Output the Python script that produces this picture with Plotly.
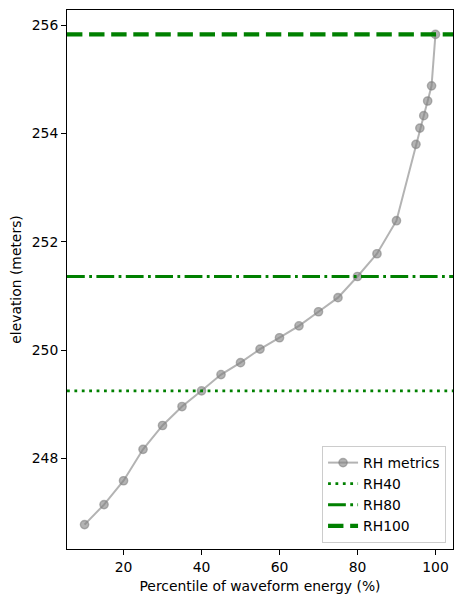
import plotly.graph_objects as go

# RH metrics
percentile = [10, 15, 20, 25, 30, 35, 40, 45, 50, 55, 60, 65, 70, 75, 80, 85, 90,
              95, 96, 97, 98, 99, 100]
elevation = [246.78, 247.15, 247.59, 248.17, 248.61, 248.96, 249.25, 249.55, 249.77,
             250.02, 250.23, 250.45, 250.71, 250.97, 251.36, 251.78, 252.39,
             253.80, 254.10, 254.33, 254.60, 254.88, 255.83]

rh_names = ['RH40', 'RH80', 'RH100']
rh_values = [249.25, 251.36, 255.83]

font = dict(family='DejaVu Sans, sans-serif', size=13.9, color='black')
gray = 'rgba(128,128,128,0.6)'

fig = go.Figure()
fig.add_trace(go.Scatter(x=percentile, y=elevation, mode='lines+markers', name='RH metrics',
                         line=dict(color=gray, width=2),
                         marker=dict(size=8.3, color=gray, line=dict(color=gray, width=1.4)),
                         legendgroup='a'))

# horizontal lines as traces so they show in legend
styles = [dict(width=2.8, dash='2.8px,4.6px'),
          dict(width=2.8, dash='17.8px,4.4px,2.8px,4.4px'),
          dict(width=4.2, dash='15.4px,6.7px')]
x_span = [5.5, 104.5]
for name, val, st in zip(rh_names, rh_values, styles):
    fig.add_trace(go.Scatter(x=x_span, y=[val, val], mode='lines', name=name,
                             line=dict(color='green', **st), legendgroup=name))

axis = dict(showline=True, linecolor='black', linewidth=1.1, mirror=True,
            ticks='outside', ticklen=4.9, tickwidth=1.1, tickcolor='black',
            showgrid=False, zeroline=False, tickfont=font, automargin=False)

fig.update_layout(
    width=463, height=602,
    margin=dict(l=67, r=10, t=10, b=53),
    plot_bgcolor='white', paper_bgcolor='white',
    font=font,
    xaxis=dict(range=[5.5, 104.5], tickvals=[20, 40, 60, 80, 100],
               title=dict(text='Percentile of waveform energy (%)', font=font, standoff=7),
               **axis),
    yaxis=dict(range=[246.33, 256.28], tickvals=[248, 250, 252, 254, 256],
               title=dict(text='elevation (meters)', font=font, standoff=6),
               **axis),
    legend=dict(x=0.982, y=0.011, xanchor='right', yanchor='bottom',
                bgcolor='rgba(255,255,255,0.8)', bordercolor='#cccccc', borderwidth=1,
                font=font, tracegroupgap=2, traceorder='normal'),
    showlegend=True,
)

# page body has a default 8px margin, drop it so the figure sits at 0,0
fig.write_html("out.html", config={'displayModeBar': False},
               post_script="document.body.style.margin='0';")
